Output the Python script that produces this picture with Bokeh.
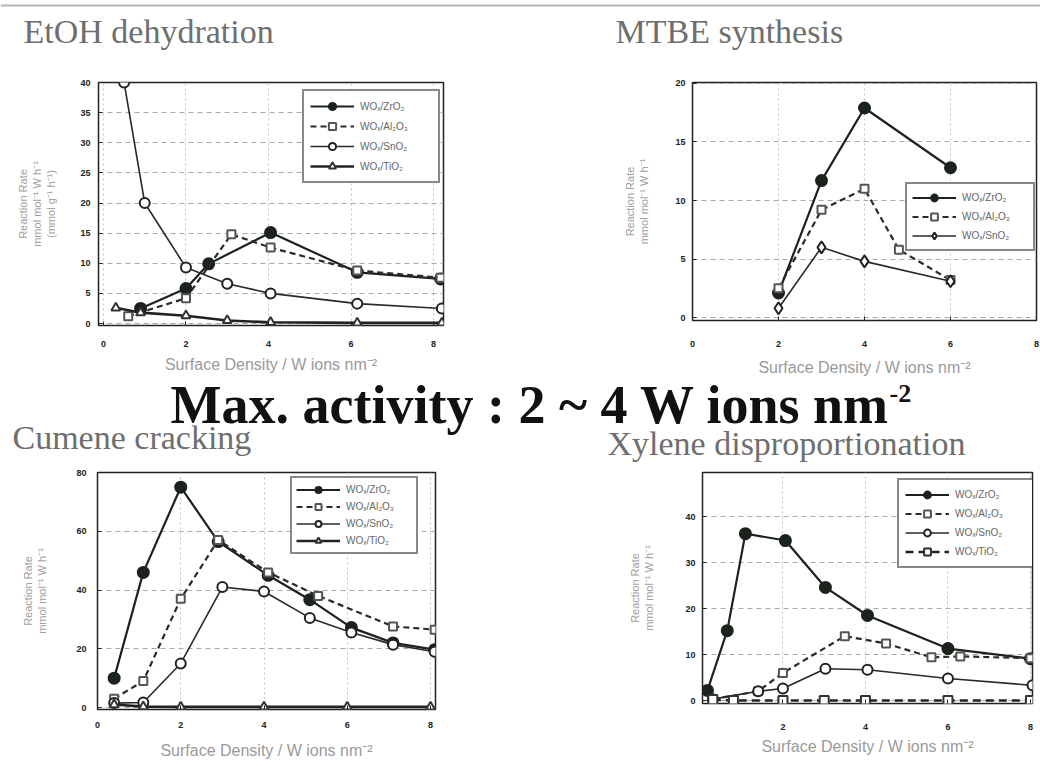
from bokeh.plotting import figure
from bokeh.layouts import column, row
from bokeh.models import Range1d, Legend, LegendItem, FixedTicker, Span
from bokeh.core.properties import value
from bokeh.embed import file_html
from bokeh.resources import INLINE

# ---------------- data ----------------
SERIES = ["WOₓ/ZrO₂", "WOₓ/Al₂O₃", "WOₓ/SnO₂", "WOₓ/TiO₂"]
x_ticks = [0, 2, 4, 6, 8]

# EtOH dehydration
etoh_zr_x = [0.9, 2.0, 2.55, 4.05, 6.15, 8.17]
etoh_zr_y = [2.5, 5.8, 9.9, 15.1, 8.5, 7.4]
etoh_al_x = [0.6, 2.0, 3.1, 4.05, 6.15, 8.17]
etoh_al_y = [1.2, 4.2, 14.8, 12.6, 8.8, 7.6]
etoh_sn_x = [0.5, 1.0, 2.0, 3.0, 4.05, 6.15, 8.2]
etoh_sn_y = [40.0, 20.0, 9.3, 6.6, 5.0, 3.3, 2.5]
etoh_ti_x = [0.3, 0.9, 2.0, 3.0, 4.05, 6.15, 8.2]
etoh_ti_y = [2.6, 1.8, 1.3, 0.5, 0.2, 0.1, 0.1]
etoh_yticks = [0, 5, 10, 15, 20, 25, 30, 35, 40]

# MTBE synthesis
mtbe_zr_x = [2.0, 3.0, 4.0, 6.0]
mtbe_zr_y = [2.1, 11.7, 17.9, 12.8]
mtbe_al_x = [2.0, 3.0, 4.0, 4.8, 6.0]
mtbe_al_y = [2.5, 9.2, 11.0, 5.8, 3.2]
mtbe_sn_x = [2.0, 3.0, 4.0, 6.0]
mtbe_sn_y = [0.8, 6.0, 4.8, 3.1]
mtbe_yticks = [0, 5, 10, 15, 20]

# Cumene cracking
cum_zr_x = [0.4, 1.1, 2.0, 2.9, 4.1, 5.1, 6.1, 7.1, 8.1]
cum_zr_y = [10.0, 46.0, 75.0, 56.5, 45.0, 36.7, 27.2, 22.0, 19.7]
cum_al_x = [0.4, 1.1, 2.0, 2.9, 4.1, 5.3, 7.1, 8.1]
cum_al_y = [3.0, 9.0, 37.0, 57.0, 46.0, 38.0, 27.6, 26.5]
cum_sn_x = [0.4, 1.1, 2.0, 3.0, 4.0, 5.1, 6.1, 7.1, 8.1]
cum_sn_y = [1.5, 1.7, 15.0, 41.0, 39.5, 30.5, 25.5, 21.4, 19.0]
cum_ti_x = [0.4, 1.1, 2.0, 4.0, 6.0, 8.0]
cum_ti_y = [1.0, 0.3, 0.2, 0.2, 0.2, 0.2]
cum_yticks = [0, 20, 40, 60, 80]

# Xylene disproportionation
xyl_zr_x = [0.17, 0.65, 1.09, 2.06, 3.03, 4.05, 6.0, 8.0]
xyl_zr_y = [2.2, 15.2, 36.3, 34.8, 24.6, 18.5, 11.3, 9.1]
xyl_al_x = [0.3, 1.4, 2.0, 3.5, 4.5, 5.6, 6.3, 8.0]
xyl_al_y = [0.3, 2.0, 6.0, 14.0, 12.4, 9.4, 9.6, 9.2]
xyl_sn_x = [0.3, 1.4, 2.0, 3.03, 4.05, 6.0, 8.05]
xyl_sn_y = [0.3, 2.0, 2.6, 6.9, 6.7, 4.8, 3.3]
xyl_ti_x = [0.3, 0.8, 2.0, 3.0, 4.0, 6.0, 8.0]
xyl_ti_y = [0.2, 0.0, 0.0, 0.0, 0.0, 0.0, 0.0]
xyl_yticks = [0, 10, 20, 30, 40]

titles_top = ["EtOH dehydration", "MTBE synthesis"]
titles_bottom = ["Cumene cracking", "Xylene disproportionation"]
headline = "Max. activity : 2 ~ 4 W ions nm"
headline_sup = "-2"
x_label = "Surface Density / W ions nm⁻²"
y_label3 = "Reaction Rate\nmmol mol⁻¹ W h⁻¹\n(mmol g⁻¹ h⁻¹)"
y_label2 = "Reaction Rate\nmmol mol⁻¹ W h⁻¹"

SERIF = "Liberation Serif"
SANS = "Liberation Sans"

STYLES = {
    "zr": dict(marker="circle", size=11, fill="#1c221c", mline="#1c221c", dash="solid", lw=2.2, color="#1c221c"),
    "al": dict(marker="square", size=8, fill="white", mline="#555555", dash="6 4", lw=2.2, color="#2a2a2a"),
    "sn": dict(marker="circle", size=10, fill="white", mline="#222222", dash="solid", lw=1.6, color="#2a2a2a"),
    "ti": dict(marker="triangle", size=9, fill="white", mline="#333333", dash="solid", lw=2.6, color="#222222"),
}


def blank(w, h):
    f = figure(width=w, height=h, x_range=Range1d(0, w), y_range=Range1d(h, 0),
               output_backend="svg", toolbar_location=None, min_border=0,
               x_axis_location=None, y_axis_location=None)
    f.grid.visible = False
    f.outline_line_color = None
    return f


def panel(fw, fh, bl, br, bt, bb, xr, yr, yticks, ylab, tick_sd_x, lab_sd_x, tick_sd_y, lab_sd_y):
    p = figure(frame_width=fw, frame_height=fh, min_border_left=bl, min_border_right=br,
               min_border_top=bt, min_border_bottom=bb,
               x_range=Range1d(*xr), y_range=Range1d(*yr),
               output_backend="svg", toolbar_location=None)
    p.xaxis.ticker = FixedTicker(ticks=x_ticks)
    p.yaxis.ticker = FixedTicker(ticks=yticks)
    p.axis.minor_tick_line_color = None
    p.axis.major_tick_in = 4
    p.axis.major_tick_out = 0
    p.axis.major_tick_line_color = "#222222"
    p.axis.axis_line_color = None
    p.axis.major_label_text_font = SANS
    p.axis.major_label_text_font_size = "9px"
    p.axis.major_label_text_font_style = "bold"
    p.axis.major_label_text_color = "#222222"
    p.xaxis.major_label_standoff = tick_sd_x
    p.yaxis.major_label_standoff = tick_sd_y
    p.xaxis.axis_label = x_label
    p.xaxis.axis_label_text_font = SANS
    p.xaxis.axis_label_text_font_size = "16px"
    p.xaxis.axis_label_text_font_style = "normal"
    p.xaxis.axis_label_text_color = "#9a9a9a"
    p.xaxis.axis_label_standoff = lab_sd_x
    p.yaxis.axis_label = ylab
    p.yaxis.axis_label_text_font = SANS
    p.yaxis.axis_label_text_font_size = "11px"
    p.yaxis.axis_label_text_font_style = "normal"
    p.yaxis.axis_label_text_color = "#a0a0a0"
    p.yaxis.axis_label_standoff = lab_sd_y
    p.outline_line_color = "#222222"
    p.outline_line_width = 1.5
    p.xgrid.grid_line_color = "#c4c4c4"
    p.xgrid.grid_line_dash = "2 3"
    p.ygrid.grid_line_color = "#a8a8a8"
    p.ygrid.grid_line_dash = "5 4"
    return p


def add_series(p, key, xs, ys):
    s = STYLES[key]
    lr = p.line(xs, ys, line_color=s["color"], line_width=s["lw"], line_dash=s["dash"])
    sr = p.scatter(xs, ys, marker=s["marker"], size=s["size"], fill_color=s["fill"],
                   line_color=s["mline"], line_width=2)
    return [lr, sr]


def add_legend(p, items, loc, lh, pad, lw):
    # loc = (left, bottom) of the legend box in pixels from the frame's bottom-left
    leg = Legend(items=[LegendItem(label=lab, renderers=r) for lab, r in items], location=loc)
    leg.border_line_color = "#111111"
    leg.border_line_width = 2
    leg.background_fill_color = "white"
    leg.background_fill_alpha = 1
    leg.label_text_font = SANS
    leg.label_text_font_size = "10px"
    leg.label_text_color = "#666666"
    leg.label_height = lh
    leg.glyph_height = lh
    leg.glyph_width = 44
    leg.label_width = lw
    leg.label_standoff = 6
    leg.spacing = 2
    leg.padding = pad
    leg.margin = 0
    p.add_layout(leg)


def mid_y(baseline, size):
    # the text glyphs are placed by their middle; convert a wanted baseline
    return baseline - 0.3375 * size


# ---------------- header (0..50) ----------------
head = blank(1040, 50)
head.add_layout(Span(location=5, dimension="width", line_color="#b5b5b5", line_width=2))
head.text(x=[23, 615], y=[mid_y(42, 34)] * 2, text=titles_top, text_font=value(SERIF),
          text_font_size="34px", text_color="#6e6e6e", text_baseline="middle")

# ---------------- panel 1: EtOH (50..376) ----------------
p1 = panel(345, 243, 98, 77, 32, 51, (-0.12, 8.24), (-0.33, 40.0), etoh_yticks, y_label3, 15, 6, 8, 20)
r = {k: add_series(p1, k, xs, ys) for k, xs, ys in [
    ("zr", etoh_zr_x, etoh_zr_y), ("al", etoh_al_x, etoh_al_y),
    ("sn", etoh_sn_x, etoh_sn_y), ("ti", etoh_ti_x, etoh_ti_y)]}
add_legend(p1, [(SERIES[0], r["zr"]), (SERIES[1], r["al"]), (SERIES[2], r["sn"]), (SERIES[3], r["ti"])],
           (204, 142), 18, 6, 72)

# ---------------- panel 2: MTBE ----------------
p2 = panel(344, 238, 172, 4, 29, 59, (0.0, 8.0), (-0.25, 20.08), mtbe_yticks, y_label2, 20, 9, 7, 22)
r = {}
r["zr"] = add_series(p2, "zr", mtbe_zr_x, mtbe_zr_y)
r["al"] = add_series(p2, "al", mtbe_al_x, mtbe_al_y)
STYLES["dm"] = dict(STYLES["sn"], marker="diamond", size=12)
r["sn"] = add_series(p2, "dm", mtbe_sn_x, mtbe_sn_y)
add_legend(p2, [(SERIES[0], r["zr"]), (SERIES[1], r["al"]), (SERIES[2], r["sn"])],
           (213, 69), 17, 5, 66)

# ---------------- middle strip (376..462) ----------------
mid = blank(1040, 86)
mid.text(x=[170], y=[mid_y(47, 54)], text=[headline], text_font=value(SERIF), text_font_size="54px",
         text_font_style="bold", text_color="#111111", text_baseline="middle")
mid.text(x=[889], y=[mid_y(26, 26)], text=[headline_sup], text_font=value(SERIF), text_font_size="26px",
         text_font_style="bold", text_color="#111111", text_baseline="middle")
mid.text(x=[12, 607], y=[mid_y(72, 34), mid_y(78, 34)], text=titles_bottom, text_font=value(SERIF),
         text_font_size="34px", text_color="#6e6e6e", text_baseline="middle")

# ---------------- panel 3: Cumene (462..769) ----------------
p3 = panel(338, 237, 97, 85, 1, 69, (0.0, 8.12), (-0.68, 80.0), cum_yticks, y_label2, 12, 11, 11, 25)
r = {k: add_series(p3, k, xs, ys) for k, xs, ys in [
    ("zr", cum_zr_x, cum_zr_y), ("al", cum_al_x, cum_al_y),
    ("sn", cum_sn_x, cum_sn_y), ("ti", cum_ti_x, cum_ti_y)]}
add_legend(p3, [(SERIES[0], r["zr"]), (SERIES[1], r["al"]), (SERIES[2], r["sn"]), (SERIES[3], r["ti"])],
           (193, 155), 15, 4, 66)

# ---------------- panel 4: Xylene ----------------
STYLES["ti"] = dict(STYLES["ti"], dash="8 5", marker="square")
p4 = panel(330, 231, 182, 8, 10, 66, (0.05, 8.05), (-0.65, 49.6), xyl_yticks, y_label2, 20, 5, 7, 27)
r = {k: add_series(p4, k, xs, ys) for k, xs, ys in [
    ("zr", xyl_zr_x, xyl_zr_y), ("al", xyl_al_x, xyl_al_y),
    ("sn", xyl_sn_x, xyl_sn_y), ("ti", xyl_ti_x, xyl_ti_y)]}
add_legend(p4, [(SERIES[0], r["zr"]), (SERIES[1], r["al"]), (SERIES[2], r["sn"]), (SERIES[3], r["ti"])],
           (195, 135), 17, 6, 72)

layout = column(head, row(p1, p2), mid, row(p3, p4))
open("out.html", "w").write(file_html(layout, INLINE))
